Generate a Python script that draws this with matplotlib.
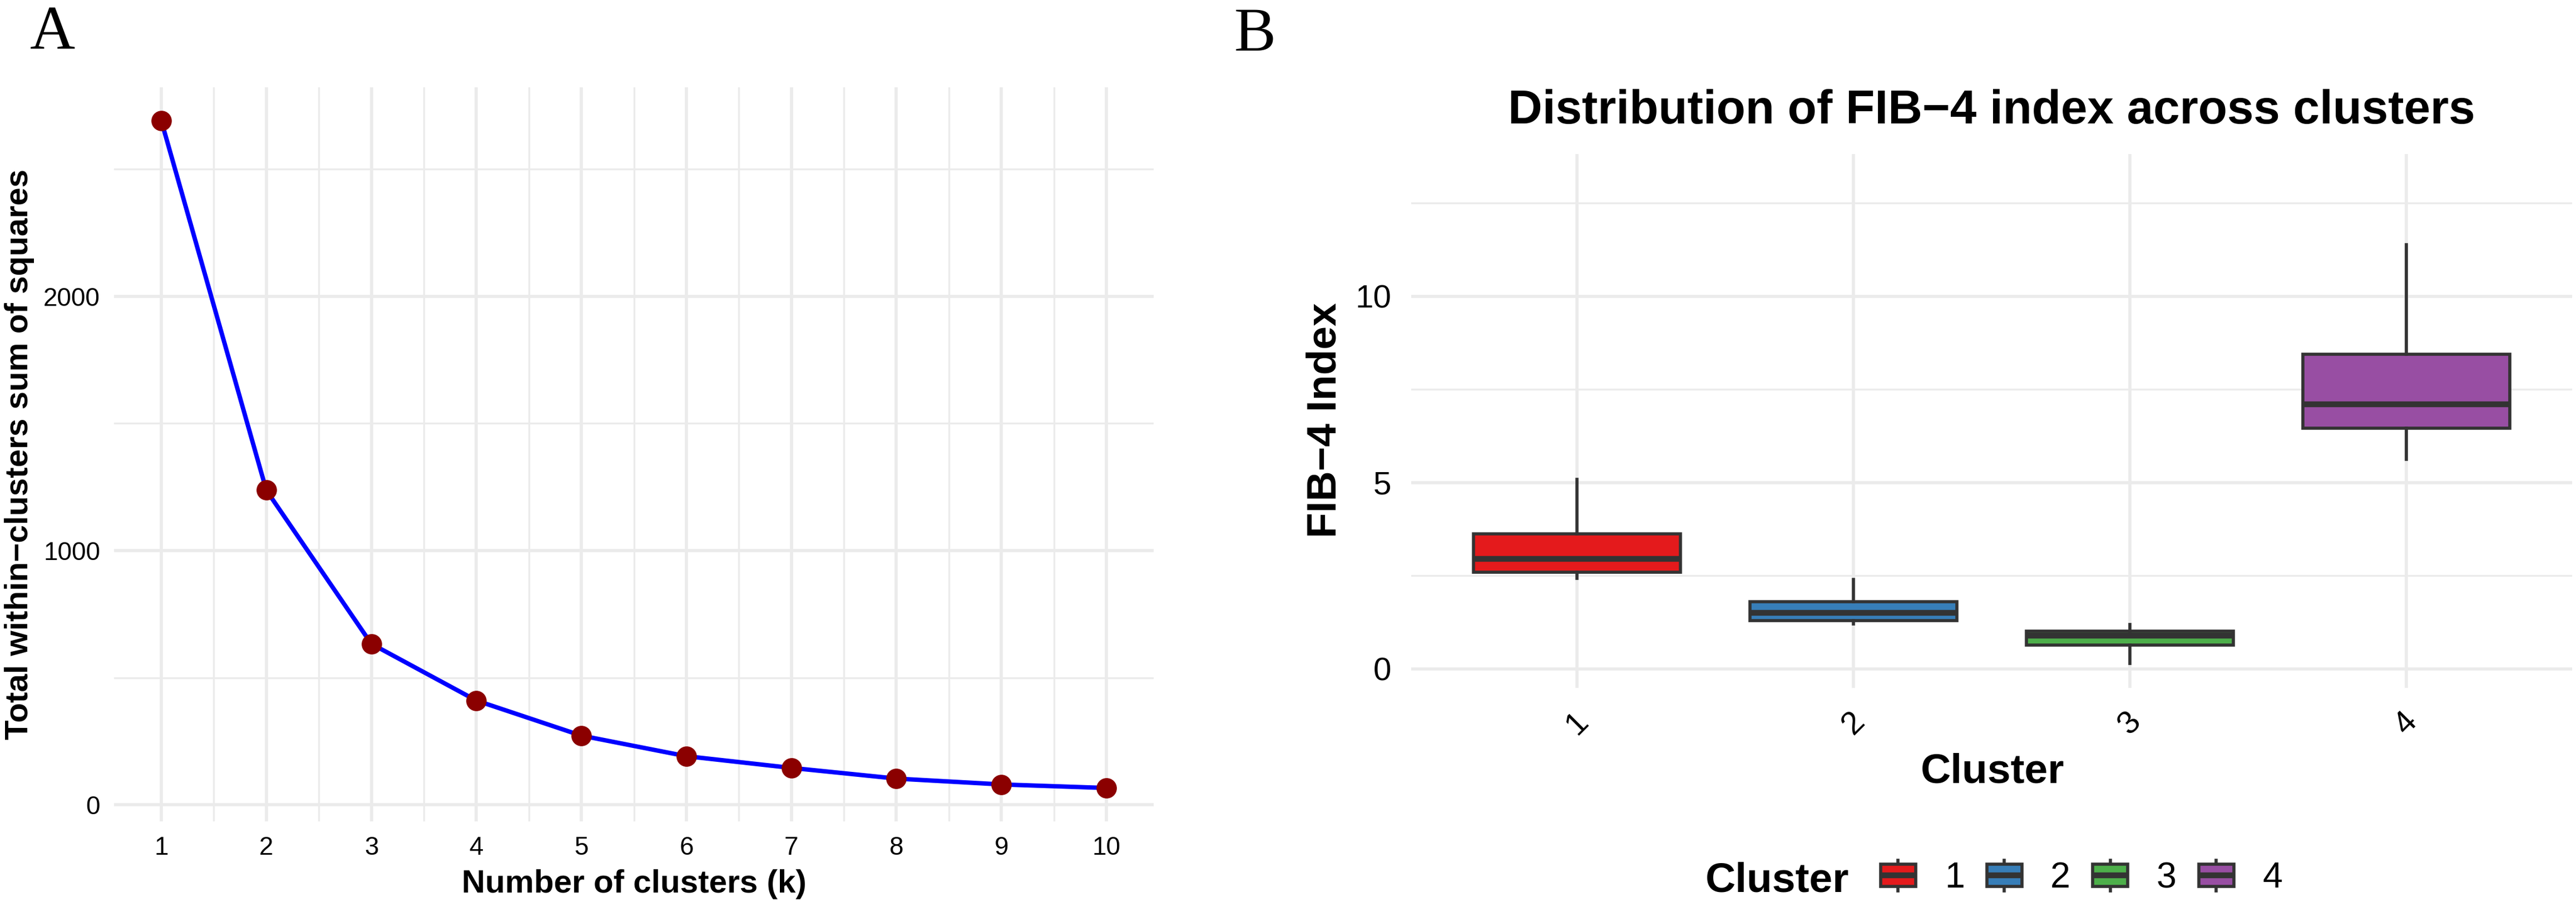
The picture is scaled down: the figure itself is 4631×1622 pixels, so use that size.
import matplotlib
matplotlib.use('Agg')
import matplotlib.pyplot as plt
from matplotlib.patches import Rectangle
from matplotlib.lines import Line2D
from matplotlib.legend_handler import HandlerBase

# ---------------- data ----------------
k_values = [1, 2, 3, 4, 5, 6, 7, 8, 9, 10]
wss_values = [2690, 1237, 633, 410, 272, 191, 145, 103, 80, 66]

clusters = ['1', '2', '3', '4']
fib4_whislo = [2.43, 1.21, 0.15, 5.63]
fib4_q1 = [2.59, 1.30, 0.64, 6.46]
fib4_med = [2.96, 1.51, 0.90, 7.11]
fib4_q3 = [3.62, 1.81, 1.02, 8.45]
fib4_whishi = [5.09, 2.40, 1.19, 11.38]
cluster_colors = ['#E41A1C', '#377EB8', '#4DAF4A', '#984EA3']

# ---------------- figure ----------------
plt.rcParams['font.family'] = ['Liberation Sans', 'DejaVu Sans']
W, H = 4631, 1622
DPI = 300
fig = plt.figure(figsize=(W / DPI, H / DPI), dpi=DPI)
fig.patch.set_facecolor('white')


def fx(px):
    return px / W


def fy(py):
    return 1 - py / H


GRID = '#EBEBEB'
EDGE = '#333333'


def style_axes(ax, fs, xpad, ypad):
    for s in ax.spines.values():
        s.set_visible(False)
    ax.set_axisbelow(True)
    ax.grid(which='major', color=GRID, lw=1.35)
    ax.grid(which='minor', color=GRID, lw=0.8)
    ax.tick_params(which='both', length=0)
    ax.tick_params(axis='x', labelsize=fs, pad=xpad, colors='black')
    ax.tick_params(axis='y', labelsize=fs, pad=ypad, colors='black')


# ---------------- panel A ----------------
axA = fig.add_axes([fx(205), fy(1477), fx(2074) - fx(205), fy(157) - fy(1477)])
style_axes(axA, 11, 6.3, 6.0)
axA.plot(k_values, wss_values, color='#0000FF', lw=1.9, zorder=3)
axA.plot(k_values, wss_values, 'o', color='#8B0000', ms=7.8, zorder=4)
xr = max(k_values) - min(k_values)
axA.set_xlim(min(k_values) - 0.05 * xr, max(k_values) + 0.05 * xr)
yr = max(wss_values) - min(wss_values)
axA.set_ylim(min(wss_values) - 0.05 * yr, max(wss_values) + 0.05 * yr)
axA.set_xticks(k_values)
axA.set_xticklabels([str(k) for k in k_values])
axA.set_xticks([k + 0.5 for k in k_values[:-1]], minor=True)
axA.set_yticks([0, 1000, 2000])
axA.set_yticks([500, 1500, 2500], minor=True)

fig.text(fx(1140), fy(1605), 'Number of clusters (k)', fontsize=14,
         fontweight='bold', ha='center', va='baseline')
fig.text(fx(50), fy(817), 'Total within\u2212clusters sum of squares', fontsize=14,
         fontweight='bold', ha='center', va='baseline', rotation=90,
         rotation_mode='anchor')

# ---------------- panel B ----------------
axB = fig.add_axes([fx(2537), fy(1237), fx(4624) - fx(2537), fy(277) - fy(1237)])
style_axes(axB, 14, 8.0, 8.6)
positions = list(range(1, len(clusters) + 1))
stats = []
for i, c in enumerate(clusters):
    stats.append(dict(med=fib4_med[i], q1=fib4_q1[i], q3=fib4_q3[i],
                      whislo=fib4_whislo[i], whishi=fib4_whishi[i], label=c))
bp = axB.bxp(stats, positions=positions, widths=0.75, patch_artist=True,
             showfliers=False, showcaps=False,
             boxprops=dict(edgecolor=EDGE, lw=1.35),
             whiskerprops=dict(color=EDGE, lw=1.35),
             medianprops=dict(color=EDGE, lw=2.5, solid_capstyle='butt'))
for patch, col in zip(bp['boxes'], cluster_colors):
    patch.set_facecolor(col)
for art in bp['boxes'] + bp['medians'] + bp['whiskers']:
    art.set_zorder(3)
for m in bp['medians']:
    m.set_zorder(4)
axB.set_xlim(0.4, len(clusters) + 0.6)
axB.set_ylim(-0.51, 13.82)
axB.set_xticks(positions)
axB.set_xticklabels(clusters, rotation=45, ha='center', va='top')
axB.xaxis.grid(False, which='minor')
axB.set_yticks([0, 5, 10])
axB.set_yticks([2.5, 7.5, 12.5], minor=True)
axB.xaxis.set_minor_locator(matplotlib.ticker.NullLocator())

fig.text(fx(3580), fy(222), 'Distribution of FIB\u22124 index across clusters',
         fontsize=20.5, fontweight='bold', ha='center', va='baseline')
fig.text(fx(3582), fy(1408), 'Cluster', fontsize=18, fontweight='bold',
         ha='center', va='baseline')
fig.text(fx(2402), fy(756), 'FIB\u22124 Index', fontsize=18, fontweight='bold',
         ha='center', va='baseline', rotation=90, rotation_mode='anchor')


# legend with boxplot glyphs
class BoxHandler(HandlerBase):
    def create_artists(self, legend, orig_handle, xdescent, ydescent, width,
                       height, fontsize, trans):
        x0, y0 = -xdescent, -ydescent
        cx = x0 + width / 2
        col = orig_handle.get_facecolor()
        whisk = Line2D([cx, cx], [y0, y0 + height], color=EDGE, lw=1.35,
                       transform=trans)
        bh = height * 0.733
        rect = Rectangle((x0, y0 + (height - bh) / 2), width, bh, facecolor=col,
                         edgecolor=EDGE, lw=1.35, transform=trans)
        med = Line2D([x0, x0 + width], [y0 + height / 2] * 2, color=EDGE,
                     lw=2.5, transform=trans, solid_capstyle='butt')
        return [whisk, rect, med]


handles = [Rectangle((0, 0), 1, 1, facecolor=c) for c in cluster_colors]
fig.legend(handles, clusters, loc='center left',
           bbox_to_anchor=(fx(3381), fy(1578)), ncol=4, frameon=False,
           fontsize=15.5, handlelength=0.975, handleheight=0.93,
           handletextpad=0.8, columnspacing=0.62, borderpad=0,
           borderaxespad=0, handler_map={Rectangle: BoxHandler()})
fig.text(fx(3066), fy(1603), 'Cluster', fontsize=18, fontweight='bold',
         ha='left', va='baseline')

# panel letters
fig.text(fx(54), fy(88), 'A', fontsize=27, family=['Liberation Serif'],
         ha='left', va='baseline')
fig.text(fx(2219), fy(91), 'B', fontsize=27, family=['Liberation Serif'],
         ha='left', va='baseline')

fig.savefig('out.png', dpi=DPI, facecolor='white')
